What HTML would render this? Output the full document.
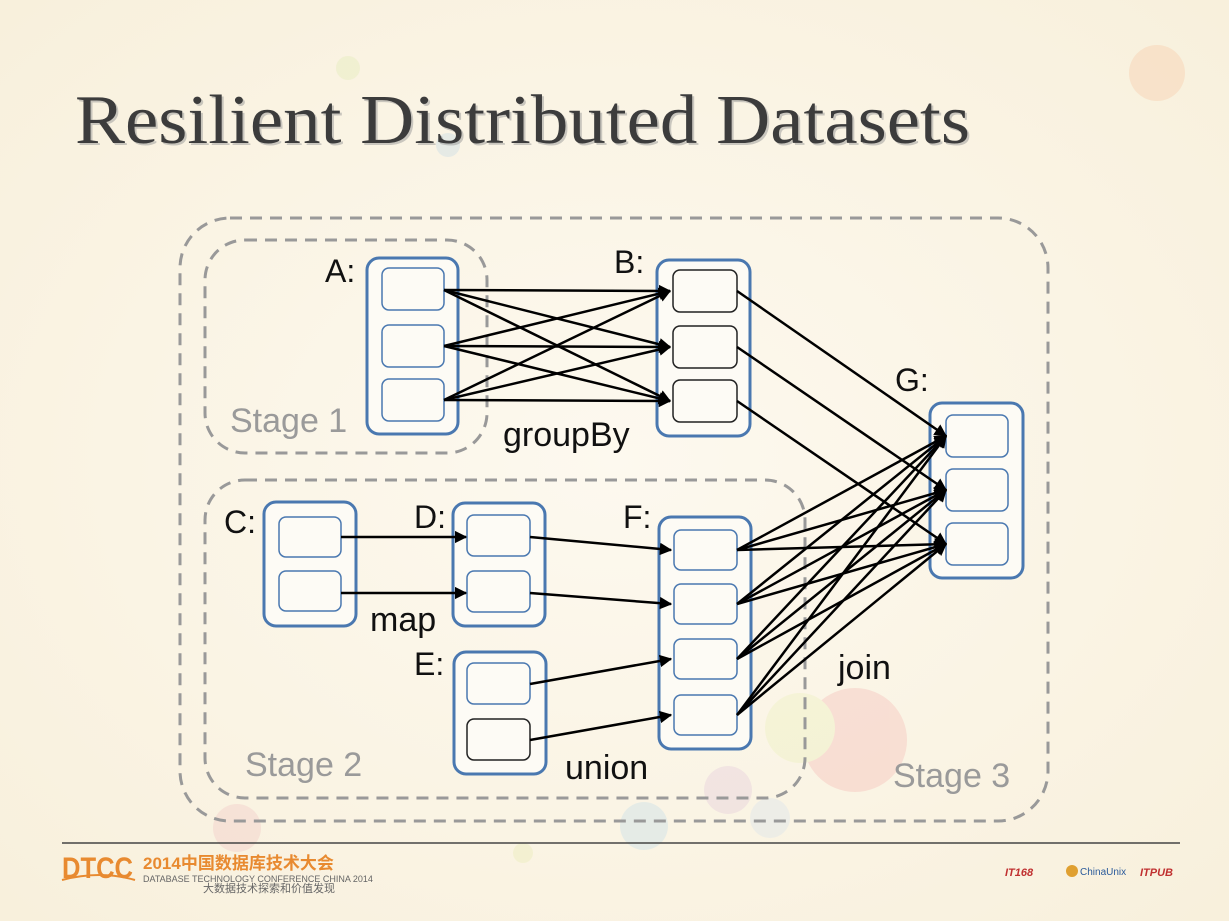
<!DOCTYPE html>
<html><head><meta charset="utf-8"><style>
body{margin:0;width:1229px;height:921px;overflow:hidden;background:#fbf6ea}
svg{display:block}
</style></head><body>
<svg width="1229" height="921" viewBox="0 0 1229 921" xmlns="http://www.w3.org/2000/svg">
<defs>
<radialGradient id="bg" cx="0.5" cy="0.5" r="0.7"><stop offset="0" stop-color="#fdf9ef"/><stop offset="1" stop-color="#f8f0dc"/></radialGradient>
<marker id="ar" viewBox="0 0 10 10" refX="9" refY="5" markerWidth="5" markerHeight="5" orient="auto"><path d="M0,0 L10,5 L0,10 z" fill="#000"/></marker>
</defs>
<rect width="1229" height="921" fill="url(#bg)"/>
<g opacity="0.25">
<circle cx="1157" cy="73" r="28" fill="#f6b98a"/>
<circle cx="348" cy="68" r="12" fill="#d8e6a0"/>
<circle cx="448" cy="145" r="12" fill="#a8cde8"/>
<circle cx="855" cy="740" r="52" fill="#f3a0a0"/>
<circle cx="800" cy="728" r="35" fill="#e6eea8"/>
<circle cx="728" cy="790" r="24" fill="#d8b8d8"/>
<circle cx="644" cy="826" r="24" fill="#a8d4ec"/>
<circle cx="770" cy="818" r="20" fill="#c8dcf0"/>
<circle cx="237" cy="828" r="24" fill="#f0b0b8"/>
<circle cx="523" cy="853" r="10" fill="#e0eaa0"/>
</g>
<text x="77" y="145" textLength="895" lengthAdjust="spacingAndGlyphs" font-family="Liberation Serif, serif" font-size="70" fill="#999" opacity="0.5">Resilient Distributed Datasets</text>
<text x="75" y="143" textLength="895" lengthAdjust="spacingAndGlyphs" font-family="Liberation Serif, serif" font-size="70" fill="#3c3c3c">Resilient Distributed Datasets</text>

<g fill="none" stroke="#999" stroke-width="3" stroke-dasharray="12,8">
<rect x="180" y="218" width="868" height="603" rx="50"/>
<rect x="205" y="240" width="282" height="213" rx="40"/>
<rect x="205" y="480" width="600" height="318" rx="40"/>
</g>

<g fill="#fdfbf5" stroke="#4a78b0" stroke-width="3">
<rect x="367" y="258" width="91" height="176" rx="12"/>
<rect x="657" y="260" width="93" height="176" rx="12"/>
<rect x="930" y="403" width="93" height="175" rx="12"/>
<rect x="264" y="502" width="92" height="124" rx="12"/>
<rect x="453" y="503" width="92" height="123" rx="12"/>
<rect x="454" y="652" width="92" height="122" rx="12"/>
<rect x="659" y="517" width="92" height="232" rx="12"/>
</g>
<g fill="#fdfbf5" stroke="#4a78b0" stroke-width="1.5">
<rect x="382" y="268" width="62" height="42" rx="7"/>
<rect x="382" y="325" width="62" height="42" rx="7"/>
<rect x="382" y="379" width="62" height="42" rx="7"/>
<rect x="946" y="415" width="62" height="42" rx="7"/>
<rect x="946" y="469" width="62" height="42" rx="7"/>
<rect x="946" y="523" width="62" height="42" rx="7"/>
<rect x="279" y="517" width="62" height="40" rx="7"/>
<rect x="279" y="571" width="62" height="40" rx="7"/>
<rect x="467" y="515" width="63" height="41" rx="7"/>
<rect x="467" y="571" width="63" height="41" rx="7"/>
<rect x="467" y="663" width="63" height="41" rx="7"/>
<rect x="674" y="530" width="63" height="40" rx="7"/>
<rect x="674" y="584" width="63" height="40" rx="7"/>
<rect x="674" y="639" width="63" height="40" rx="7"/>
<rect x="674" y="695" width="63" height="40" rx="7"/>
</g>
<g fill="#fdfbf5" stroke="#222" stroke-width="1.5">
<rect x="673" y="270" width="64" height="42" rx="7"/>
<rect x="673" y="326" width="64" height="42" rx="7"/>
<rect x="673" y="380" width="64" height="42" rx="7"/>
<rect x="467" y="719" width="63" height="41" rx="7"/>
</g>

<g stroke="#000" stroke-width="2.5" marker-end="url(#ar)">
<line x1="444" y1="290" x2="670" y2="291"/><line x1="444" y1="290" x2="670" y2="347"/><line x1="444" y1="290" x2="670" y2="401"/>
<line x1="444" y1="346" x2="670" y2="291"/><line x1="444" y1="346" x2="670" y2="347"/><line x1="444" y1="346" x2="670" y2="401"/>
<line x1="444" y1="400" x2="670" y2="291"/><line x1="444" y1="400" x2="670" y2="347"/><line x1="444" y1="400" x2="670" y2="401"/>
<line x1="737" y1="291" x2="946" y2="436"/><line x1="737" y1="347" x2="946" y2="490"/><line x1="737" y1="401" x2="946" y2="544"/>
<line x1="737" y1="550" x2="946" y2="436"/><line x1="737" y1="550" x2="946" y2="490"/><line x1="737" y1="550" x2="946" y2="544"/>
<line x1="737" y1="604" x2="946" y2="436"/><line x1="737" y1="604" x2="946" y2="490"/><line x1="737" y1="604" x2="946" y2="544"/>
<line x1="737" y1="659" x2="946" y2="436"/><line x1="737" y1="659" x2="946" y2="490"/><line x1="737" y1="659" x2="946" y2="544"/>
<line x1="737" y1="715" x2="946" y2="436"/><line x1="737" y1="715" x2="946" y2="490"/><line x1="737" y1="715" x2="946" y2="544"/>
<line x1="341" y1="537" x2="466" y2="537"/><line x1="341" y1="593" x2="466" y2="593"/>
<line x1="530" y1="537" x2="671" y2="550"/><line x1="530" y1="593" x2="671" y2="604"/>
<line x1="530" y1="684" x2="671" y2="659"/><line x1="530" y1="740" x2="671" y2="715"/>
</g>

<g font-family="Liberation Sans, sans-serif" font-size="32" fill="#111">
<text x="325" y="282">A:</text><text x="614" y="273">B:</text><text x="895" y="391">G:</text>
<text x="224" y="533">C:</text><text x="414" y="528">D:</text><text x="623" y="528">F:</text><text x="414" y="675">E:</text>
</g>
<g font-family="Liberation Sans, sans-serif" font-size="34" fill="#111">
<text x="503" y="446">groupBy</text><text x="370" y="631">map</text><text x="565" y="779">union</text><text x="838" y="679">join</text>
</g>
<g font-family="Liberation Sans, sans-serif" font-size="34" fill="#9a9a9a">
<text x="230" y="432">Stage 1</text><text x="245" y="776">Stage 2</text><text x="893" y="787">Stage 3</text>
</g>

<line x1="62" y1="843" x2="1180" y2="843" stroke="#444" stroke-width="1.5"/>
<text x="62" y="878" textLength="71" lengthAdjust="spacingAndGlyphs" font-family="Liberation Sans, sans-serif" font-weight="bold" font-size="30" fill="#e88a30">DTCC</text>
<path d="M62 880 Q100 870 135 880" stroke="#e88a30" stroke-width="2" fill="none"/>
<text x="143" y="869" font-family="Liberation Sans, 'Noto Sans CJK SC', sans-serif" font-weight="bold" font-size="17" fill="#e88a30">2014中国数据库技术大会</text>
<text x="143" y="882" font-family="Liberation Sans, sans-serif" font-size="9" fill="#666">DATABASE TECHNOLOGY CONFERENCE CHINA 2014</text>
<text x="203" y="892" font-family="'Noto Sans CJK SC', sans-serif" font-size="11" fill="#666">大数据技术探索和价值发现</text>
<text x="1005" y="876" font-family="Liberation Sans, sans-serif" font-weight="bold" font-style="italic" font-size="11" fill="#c03030">IT168</text>
<circle cx="1072" cy="871" r="6" fill="#e0a030"/>
<text x="1080" y="875" font-family="Liberation Sans, sans-serif" font-size="10" fill="#2a5a9a">ChinaUnix</text>
<text x="1140" y="876" font-family="Liberation Sans, sans-serif" font-weight="bold" font-style="italic" font-size="11" fill="#c03030">ITPUB</text>
</svg>
</body></html>
